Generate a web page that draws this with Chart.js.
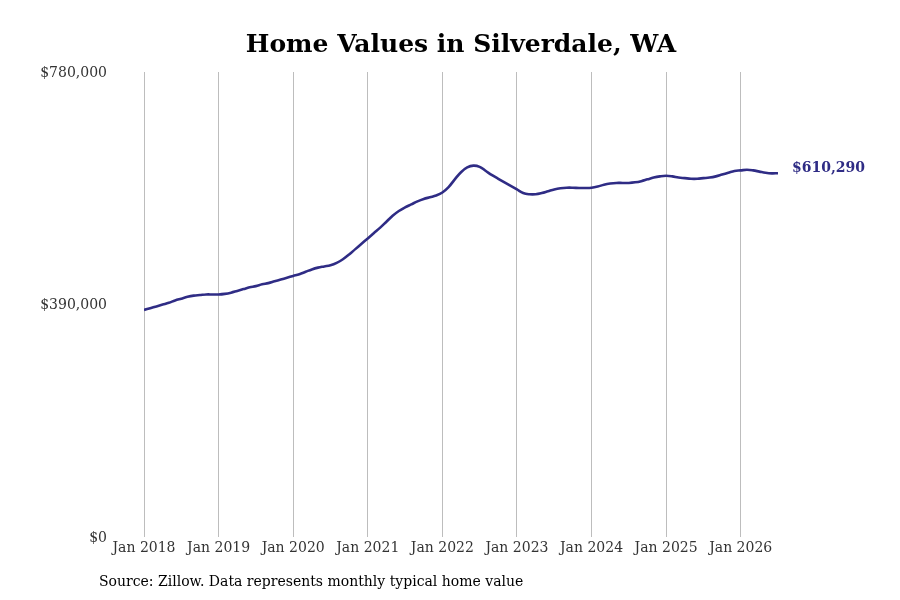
<!DOCTYPE html>
<html>
<head>
<meta charset="utf-8">
<script src="https://cdn.jsdelivr.net/npm/chart.js@4.4.1/dist/chart.umd.min.js"></script>
<style>
  html, body { margin: 0; padding: 0; background: #fff; }
  #wrap { width: 900px; height: 600px; }
</style>
</head>
<body>
<div id="wrap"><canvas id="homeChart" width="900" height="600"></canvas></div>
<script>
// monthly typical home value, Jan 2018 .. Jul 2026
const startYear = 2018;
const values2018 = [381000, 384000, 387000, 390000, 393000, 397000, 400000, 403000, 405000, 406000, 407000, 407000];
const values2019 = [407000, 408000, 410000, 413000, 416000, 419000, 421000, 424000, 426000, 429000, 432000, 435000];
const values2020 = [438000, 441000, 445000, 449000, 452000, 454000, 456000, 460000, 466000, 474000, 483000, 492000];
const values2021 = [501000, 510000, 519000, 529000, 539000, 547000, 553000, 558000, 563000, 567000, 570000, 573000];
const values2022 = [578000, 587000, 600000, 612000, 620000, 623000, 621000, 614000, 607000, 601000, 595000, 589000];
const values2023 = [583000, 577000, 575000, 575000, 577000, 580000, 583000, 585000, 586000, 586000, 585500, 585500];
const values2024 = [586000, 588000, 591000, 593000, 594000, 594000, 594000, 595000, 597000, 600000, 603000, 605000];
const values2025 = [606000, 605000, 603000, 602000, 601000, 601000, 602000, 603000, 605000, 608000, 611000, 614000];
const values2026 = [615000, 616000, 615000, 613000, 611000, 610000, 610290];

const yTicks = [0, 390000, 780000];
const lineColor = "#2f2c85";
const sourceText = "Source: Zillow. Data represents monthly typical home value";

const allValues = [].concat(values2018, values2019, values2020, values2021, values2022,
  values2023, values2024, values2025, values2026);
const points = allValues.map((v, i) => ({ x: i, y: v }));

const money = (v) => "$" + Math.round(v).toLocaleString("en-US");

const extrasPlugin = {
  id: "extras",
  afterDraw(chart) {
    const ctx = chart.ctx;
    const yScale = chart.scales.y;
    ctx.save();

    // y tick labels, placed from the y scale
    ctx.fillStyle = "#333";
    ctx.font = "14px 'DejaVu Serif'";
    ctx.textAlign = "right";
    ctx.textBaseline = "middle";
    yScale.ticks.forEach((t) => {
      ctx.fillText(money(t.value), chart.chartArea.left - 37, yScale.getPixelForValue(t.value) + 1);
    });

    // end-of-line value label
    const meta = chart.getDatasetMeta(0);
    const last = meta.data[meta.data.length - 1];
    ctx.fillStyle = lineColor;
    ctx.font = "bold 14px 'DejaVu Serif'";
    ctx.textAlign = "left";
    ctx.fillText(money(allValues[allValues.length - 1]), last.x + 14, last.y - 5);

    ctx.fillStyle = "#000";
    ctx.font = "14px 'DejaVu Serif'";
    ctx.fillText(sourceText, 99, 582);
    ctx.restore();
  }
};

new Chart("homeChart", {
  type: "line",
  data: {
    datasets: [
      {
        label: "Home value",
        data: points,
        borderColor: lineColor,
        borderWidth: 2.6,
        pointRadius: 0,
        tension: 0.4,
        fill: false,
      },
    ],
  },
  options: {
    responsive: false,
    animation: false,
    layout: { padding: { left: 144, right: 122, top: 0, bottom: 40 } },
    plugins: {
      legend: { display: false },
      tooltip: { enabled: false },
      title: {
        display: true,
        text: "Home Values in Silverdale, WA",
        color: "#000",
        font: { family: "'DejaVu Serif'", size: 25, weight: "bold" },
        padding: { top: 30, bottom: 12 },
      },
    },
    scales: {
      x: {
        type: "linear",
        min: 0,
        max: allValues.length - 1,
        grid: { display: true, color: "#bdbdbd", lineWidth: 1, drawTicks: false },
        border: { display: false },
        afterBuildTicks(scale) {
          const t = [];
          for (let m = 0; m <= scale.max; m += 12) t.push({ value: m });
          scale.ticks = t;
        },
        ticks: {
          color: "#333",
          padding: 3,
          maxRotation: 0,
          autoSkip: false,
          font: { family: "'DejaVu Serif'", size: 14 },
          callback: (v) => "Jan " + (startYear + v / 12),
        },
      },
      y: {
        display: false,
        min: 0,
        max: 780000,
        afterBuildTicks(scale) { scale.ticks = yTicks.map((v) => ({ value: v })); },
      },
    },
  },
  plugins: [extrasPlugin],
});
</script>
</body>
</html>
